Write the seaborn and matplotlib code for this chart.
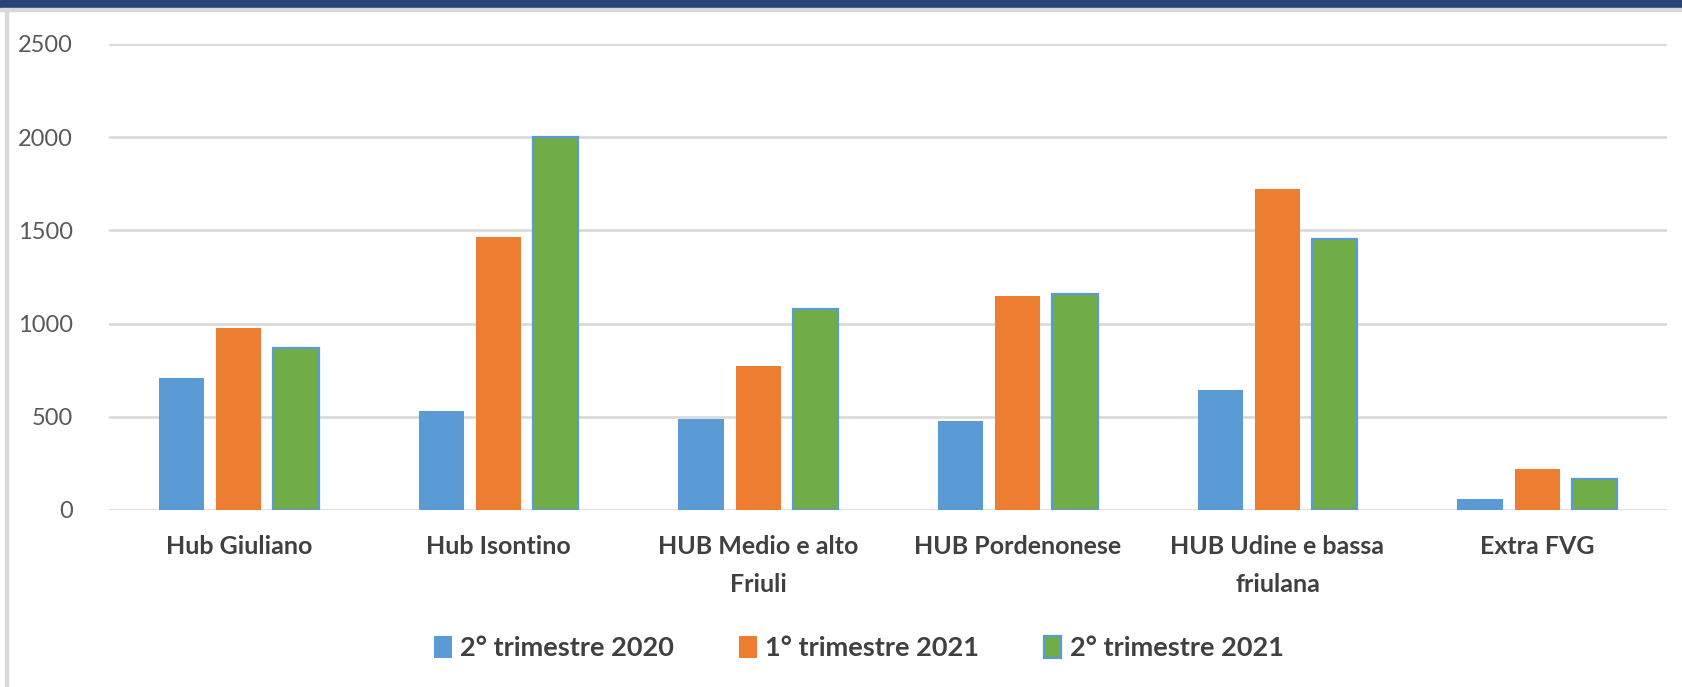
import pandas as pd
import seaborn as sns
import matplotlib.pyplot as plt
from matplotlib.patches import Rectangle

# Dati
hub = ['Hub Giuliano', 'Hub Isontino', 'HUB Medio e alto\nFriuli', 'HUB Pordenonese',
       'HUB Udine e bassa\nfriulana', 'Extra FVG']
serie = ['2° trimestre 2020', '1° trimestre 2021', '2° trimestre 2021']
t2_2020 = [707, 530, 488, 478, 643, 59]
t1_2021 = [975, 1465, 773, 1148, 1721, 220]
t2_2021 = [868, 2000, 1077, 1160, 1455, 168]

blu = '#5b9bd5'
arancio = '#ed7d31'
verde = '#70ad47'
grigio = '#d9d9d9'

df = pd.DataFrame({
    'hub': hub * 3,
    'serie': [serie[0]] * 6 + [serie[1]] * 6 + [serie[2]] * 6,
    'valore': t2_2020 + t1_2021 + t2_2021,
})

sns.set_style('white')
plt.rcParams['font.family'] = ['Lato', 'DejaVu Sans']

fig = plt.figure(figsize=(16.82, 6.87), dpi=100)
ax = fig.add_axes([109 / 1682, 1 - 510 / 687, (1667 - 109) / 1682, (510 - 44) / 687])

sns.barplot(data=df, x='hub', y='valore', hue='serie', order=hub, hue_order=serie,
            palette=[blu, arancio, verde], saturation=1, width=0.66, gap=0.21,
            linewidth=0, ax=ax)

# bordo blu sulle barre verdi
for bar in ax.containers[2]:
    bar.set_edgecolor(blu)
    bar.set_linewidth(1.6)

ax.set_ylim(0, 2500)
ax.set_yticks([0, 500, 1000, 1500, 2000, 2500])
ax.set_xlim(-0.5, len(hub) - 0.5)
ax.yaxis.grid(True, color=grigio, linewidth=1.9)
ax.set_axisbelow(True)
for s in ax.spines.values():
    s.set_visible(False)
ax.set_xlabel('')
ax.set_ylabel('')
ax.tick_params(axis='y', length=0, pad=26, labelsize=17, labelcolor='#595959')
ax.tick_params(axis='x', length=0, pad=18, labelsize=18, labelcolor='#404040')
for lab in ax.get_xticklabels():
    lab.set_fontweight('bold')
    lab.set_linespacing(1.8)

handles, labels = ax.get_legend_handles_labels()
leg = ax.legend(handles, labels, loc='center', bbox_to_anchor=(859 / 1682, 1 - 648 / 687),
                bbox_transform=fig.transFigure, ncol=3, frameon=False,
                prop={'size': 19.5, 'weight': 'bold'}, handlelength=0.65, handleheight=0.85,
                handletextpad=0.3, columnspacing=2.4)
for t in leg.get_texts():
    t.set_color('#404040')
leg.legend_handles[2].set_edgecolor(blu)
leg.legend_handles[2].set_linewidth(1.6)

# cornice
fig.patches.append(Rectangle((0, 1 - 8 / 687), 1, 8 / 687, transform=fig.transFigure,
                             color='#284477', zorder=0))
fig.patches.append(Rectangle((0, 1 - 11 / 687), 1, 3 / 687, transform=fig.transFigure,
                             color=grigio, zorder=0))
fig.patches.append(Rectangle((5 / 1682, 0), 2.5 / 1682, 1 - 11 / 687, transform=fig.transFigure,
                             color=grigio, zorder=0))

fig.savefig('out.png', dpi=100)
